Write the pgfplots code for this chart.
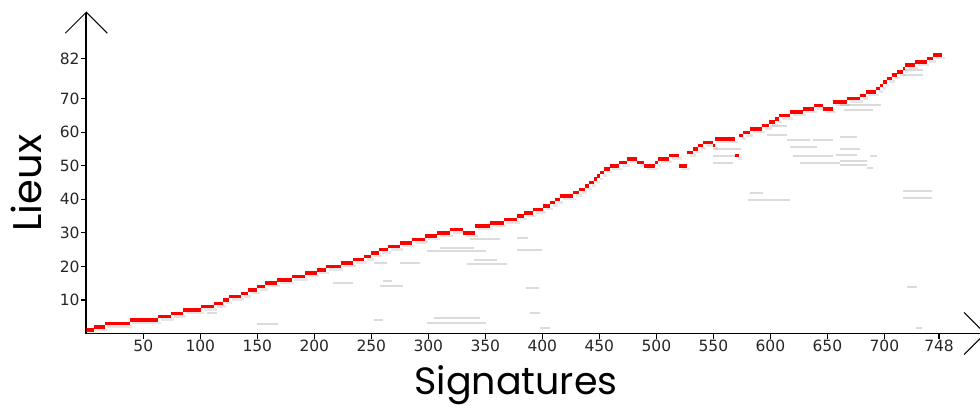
\documentclass[border=0pt]{standalone}
\usepackage{fontspec}
\usepackage{pgfplots}
\usepackage{pgfplotstable}
\pgfplotsset{compat=1.18}
\usetikzlibrary{arrows.meta}
\newfontfamily\tickfont{DejaVu Sans}
\newfontfamily\labfont{Poppins}

\pgfplotstableread{
x y
0 1
6.8 2
16 3
38 4
63 5
74 6
85 7
100.6 8
112 9
120 10
125 11
136 12
142 13
150 14
157 15
167 16
180 17
192 18
202 19
210 20
223 21
234 22
244 23
250 24
257 25
264.5 26
275 27
285.4 28
297 29
307.4 30
319 31
330.7 30
341 32
354 33
366 34
378 35
384 36
392 37
401 38
407 39
411 40
415.5 41
427 42
432 43
437 44
441 45
445 46
448 47
451 48
454 49
459 50
467.5 51
474.6 52
483.3 51
489.2 50
499 51
501.8 52
511.4 53
520.2 50
526.7 54
532.5 55
536.8 56
541 57
549.5 56
551.5 58
569 53
572.8 59
576.3 60
582.2 61
592.5 62
599 63
604 64
608 65
617 66
628.4 67
638.4 68
646 67
654.7 69
667 70
679 71
683.6 72
692.5 73
696 74
699 75
702 76
706.5 77
711 78
716 79
718 80
727 81
737 82
743 83
751 83
}\redtab

\begin{document}
\begin{tikzpicture}
\useasboundingbox (-86.3bp,-79.5bp) rectangle (893.7bp,333.5bp);
\clip (-86.3bp,-79.5bp) rectangle (893.7bp,333.5bp);
\begin{axis}[
  scale only axis,
  width=899.5bp, height=322bp,
  xmin=0, xmax=789, ymin=0, ymax=96,
  axis lines=left,
  axis line style={line width=1.6bp, black},
  x axis line style={-{Straight Barb[length=21bp,width=42bp,line width=1bp]}},
  y axis line style={-{Straight Barb[length=21bp,width=42bp,line width=1bp]}},
  xtick={50,100,150,200,250,300,350,400,450,500,550,600,650,700,748},
  ytick={10,20,30,40,50,60,70,82},
  tick align=outside,
  major tick length=5bp,
  tick style={line width=1.2bp, black},
  /pgf/number format/assume math mode=true,
  /pgf/number format/1000 sep={},
  ticklabel style={font=\tickfont\fontsize{15.5bp}{17bp}\selectfont, text=black!85},
  xticklabel style={inner sep=1.5bp},
  yticklabel style={inner sep=1.5bp},
  xlabel={\labfont\fontsize{38bp}{40bp}\selectfont Signatures},
  ylabel={\labfont\fontsize{40bp}{42bp}\selectfont Lieux},
  every axis x label/.style={at={(axis description cs:0.4777,-0.16)}, anchor=center},
  every axis y label/.style={at={(axis description cs:-0.067,0.467)}, anchor=center, rotate=90},
  unbounded coords=jump,
]
% grey noise
\addplot[gray!80, opacity=0.35, line width=2bp] coordinates {
(150,2.8) (168,2.8) (nan,nan)
(106,6) (115,6) (nan,nan)
(216,15) (234,15) (nan,nan)
(258,14.3) (278,14.3) (nan,nan)
(260,15.8) (268,15.8) (nan,nan)
(252,21) (264,21) (nan,nan)
(275,21) (293,21) (nan,nan)
(299,24.5) (351,24.5) (nan,nan)
(310,25.6) (340,25.6) (nan,nan)
(334,20.7) (369,20.7) (nan,nan)
(340,22) (360,22) (nan,nan)
(337,28.2) (363,28.2) (nan,nan)
(378,28.5) (387,28.5) (nan,nan)
(378,25) (400,25) (nan,nan)
(386,13.6) (397,13.6) (nan,nan)
(252,4) (260,4) (nan,nan)
(299,3.2) (351,3.2) (nan,nan)
(305,4.6) (345,4.6) (nan,nan)
(389,6) (398,6) (nan,nan)
(398,1.5) (407,1.5) (nan,nan)
(550,55) (574,55) (nan,nan)
(550,53) (571,53) (nan,nan)
(550,50.8) (567,50.8) (nan,nan)
(597,59.3) (615,59.3) (nan,nan)
(615,57.7) (635,57.7) (nan,nan)
(637,57.7) (655,57.7) (nan,nan)
(661,58.5) (676,58.5) (nan,nan)
(620,53) (655,53) (nan,nan)
(658,53.3) (676,53.3) (nan,nan)
(626,50.8) (661,50.8) (nan,nan)
(661,51.5) (685,51.5) (nan,nan)
(661,50.2) (685,50.2) (nan,nan)
(685,49.3) (690,49.3) (nan,nan)
(617,55.6) (641,55.6) (nan,nan)
(661,55) (679,55) (nan,nan)
(582,42) (594,42) (nan,nan)
(580,39.8) (617,39.8) (nan,nan)
(687,53) (694,53) (nan,nan)
(661,68) (697,68) (nan,nan)
(665,66.5) (690,66.5) (nan,nan)
(716,78.5) (734,78.5) (nan,nan)
(716,77) (734,77) (nan,nan)
(716,42.5) (742,42.5) (nan,nan)
(716,40.5) (742,40.5) (nan,nan)
(720,14) (729,14) (nan,nan)
(728,1.6) (733,1.6) (nan,nan)
(600,62) (615,62)
};
% shadow under the red line
\addplot[jump mark left, gray, opacity=0.2, line width=2.5bp] table[x expr=\thisrow{x}+2.5, y expr=\thisrow{y}-0.9] {\redtab};
% red step line
\addplot[jump mark left, red, line width=3.5bp] table[x=x, y=y] {\redtab};
\end{axis}
\end{tikzpicture}
\end{document}
